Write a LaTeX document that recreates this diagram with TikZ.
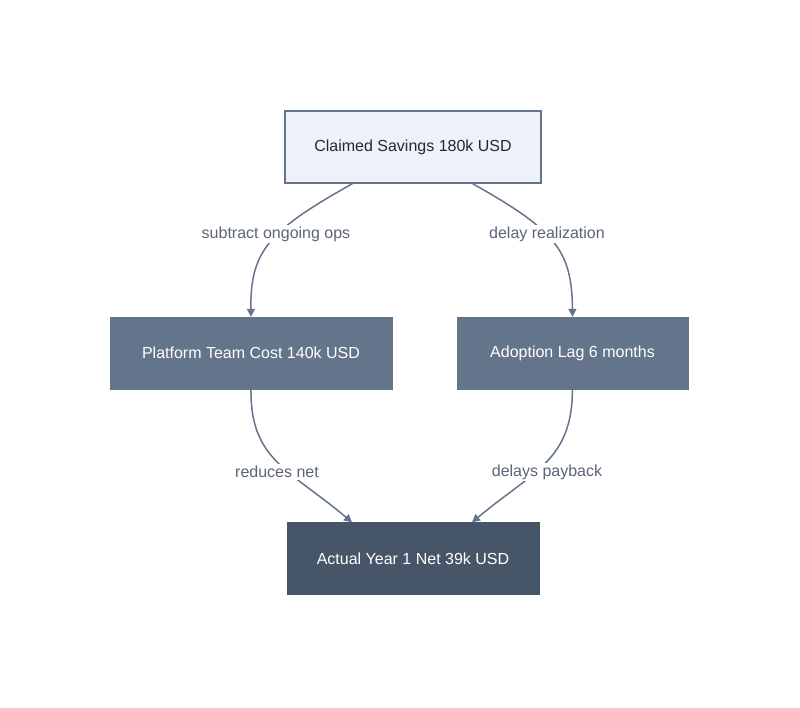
\documentclass[tikz,border=0pt]{standalone}
\usepackage{fontspec}
\setmainfont{Liberation Sans}
\usetikzlibrary{arrows.meta}
\definecolor{lightfill}{HTML}{EEF2F8}
\definecolor{edge}{HTML}{64748B}
\definecolor{mid}{HTML}{64748B}
\definecolor{dark}{HTML}{475569}
\definecolor{txt}{HTML}{1E293B}
\definecolor{lbl}{HTML}{5B6478}
\begin{document}
\begin{tikzpicture}[x=1pt,y=-1pt,
  box/.style={draw,minimum height=72pt,inner sep=0pt,font=\fontsize{16}{19}\selectfont},
  conn/.style={draw=edge,line width=1.5pt,-{Triangle[length=8pt,width=8pt]}},
  lab/.style={fill=white,text=lbl,font=\fontsize{16}{19}\selectfont,inner sep=2pt}]
\useasboundingbox (0,0) rectangle (800,707);
\node[box,fill=lightfill,draw=edge,line width=1.5pt,text=txt,minimum width=256pt] (c) at (413,147) {Claimed Savings 180k USD};
\node[box,fill=mid,draw=mid,text=white,minimum width=282pt] (p) at (251,353) {Platform Team Cost 140k USD};
\node[box,fill=mid,draw=mid,text=white,minimum width=231pt] (a) at (572.5,353) {Adoption Lag 6 months};
\node[box,fill=dark,draw=dark,text=white,minimum width=252pt] (n) at (413,558.5) {Actual Year 1 Net 39k USD};
\draw[conn] (c.south west) ++(68,0) coordinate (c1) .. controls (270,230) and (250,250) .. (p.north);
\draw[conn] (c.south east) ++(-69,0) coordinate (c2) .. controls (555,230) and (572,250) .. (a.north);
\draw[conn] (p.south) .. controls (250,460) and (290,470) .. ([xshift=-61pt]n.north);
\draw[conn] (a.south) .. controls (572,460) and (535,470) .. ([xshift=59pt]n.north);
\node[lab] (l1) at (276,234) {subtract ongoing ops};
\node[lab] (l2) at (547,234) {delay realization};
\node[lab] (l3) at (277,472) {reduces net};
\node[lab] (l4) at (547,472) {delays payback};
\end{tikzpicture}
\end{document}
